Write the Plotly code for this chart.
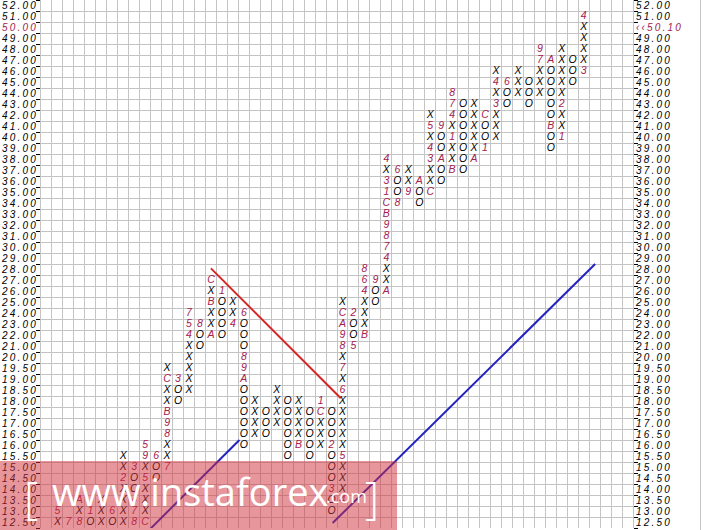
import plotly.graph_objects as go

# ---------------- data ----------------
price_levels = [12.50, 13.00, 13.50, 14.00, 14.50, 15.00, 15.50, 16.00, 16.50, 17.00,
                17.50, 18.00, 18.50, 19.00, 19.50, 20.00, 21.00, 22.00, 23.00, 24.00,
                25.00, 26.00, 27.00, 28.00, 29.00, 30.00, 31.00, 32.00, 33.00, 34.00,
                35.00, 36.00, 37.00, 38.00, 39.00, 40.00, 41.00, 42.00, 43.00, 44.00,
                45.00, 46.00, 47.00, 48.00, 49.00, 50.00, 51.00, 52.00]
last_price = 50.10
last_box = 50.00

# columns 1..49 (column 0 and 50..53 are empty)
col_kind = ['X', 'O', 'X', 'O', 'X', 'O', 'X', 'O', 'X', 'O',
            'X', 'O', 'X', 'O', 'X', 'O', 'X', 'O', 'X', 'O',
            'X', 'O', 'X', 'O', 'X', 'O', 'X', 'O', 'X', 'O',
            'X', 'O', 'X', 'O', 'X', 'O', 'X', 'O', 'X', 'O',
            'X', 'O', 'X', 'O', 'X', 'O', 'X', 'O', 'X']
col_low = [12.5, 12.5, 12.5, 12.5, 12.5, 12.5, 12.5, 12.5, 12.5, 14.5,
           15.0, 18.0, 18.5, 21, 22, 22, 23, 16.0, 16.5, 16.5,
           17.0, 15.5, 16.0, 15.5, 16.0, 13.0, 13.5, 21, 22, 25,
           26, 34, 35, 34, 35, 36, 37, 37, 38, 39,
           40, 43, 44, 43, 44, 39, 40, 45, 46]
col_high = [13.0, 12.5, 13.5, 13.0, 13.5, 13.0, 15.5, 15.0, 16.0, 15.5,
            19.5, 19.0, 24, 23, 27, 26, 25, 24, 18.0, 17.5,
            18.5, 18.0, 18.0, 17.5, 18.0, 17.5, 25, 24, 28, 27,
            38, 37, 37, 36, 42, 41, 44, 43, 43, 42,
            46, 45, 46, 45, 48, 47, 48, 47, 51]

# month markers: column, price box, month code
mark_col = [1, 2, 3, 3, 4, 6, 7, 8, 8, 8, 8, 9, 9, 9, 9, 10,
            11, 11, 11, 11, 11, 12, 13, 13, 13, 14, 15, 15, 15, 16, 17,
            18, 18, 18, 18, 23, 25, 25, 26, 26,
            27, 27, 27, 27, 27, 27, 27, 27, 28, 28, 29, 29, 29, 29, 30,
            31, 31, 31, 31, 31, 31, 31, 31, 31, 31, 32, 32, 33, 34,
            35, 35, 35, 35, 36, 36, 37, 37, 37, 37, 37, 39, 40, 40,
            41, 41, 42, 45, 45, 46, 46, 47, 47, 49, 49]
mark_price = [13.0, 12.5, 12.5, 13.5, 13.0, 13.0, 14.5, 15.0, 13.5, 13.0, 12.5, 12.5, 14.5, 15.5, 16.0, 15.5,
              15.0, 16.5, 17.0, 17.5, 19.0, 19.0, 22, 23, 24, 23, 22, 25, 27, 26, 23,
              24, 20.0, 19.5, 19.0, 16.0, 17.5, 18.0, 16.0, 14.0,
              13.5, 15.5, 18.5, 19.5, 21, 22, 23, 24, 24, 21, 22, 26, 27, 28, 27,
              26, 29, 30, 31, 32, 33, 34, 35, 36, 38, 37, 34, 35, 36,
              35, 38, 39, 41, 41, 38, 37, 40, 42, 43, 44, 38, 42, 39,
              43, 45, 45, 47, 48, 47, 41, 40, 43, 46, 51]
mark_text = ['5', '7', '8', 'A', '1', '6', '2', '3', '4', '7', '8', 'C', '5', '9', '5', '6',
             '7', '8', '9', 'B', 'C', '3', '4', '5', '7', '8', 'A', 'B', 'C', '1', '4',
             '6', '8', '9', 'A', 'B', 'C', '1', '2', '3',
             '4', '5', '6', '7', '8', '9', 'A', 'C', '2', '5', 'B', '4', '6', '8', '9',
             'A', '4', '7', '8', '9', 'B', 'C', '1', '3', '4', '6', '8', '9', 'A',
             'C', '3', '4', '5', '9', 'A', 'B', '1', '4', '7', '8', 'A', 'C', '1',
             '3', '4', '6', '7', '9', 'A', 'B', '1', '2', '3', '4']

# trend lines (column, box index)
red_x, red_y = [15.0, 26.85], [23.1, 11.3]
blue1_x, blue1_y = [9.3, 17.6], [-0.75, 7.5]
blue2_x, blue2_y = [26.1, 50.05], [-0.05, 23.5]

# ---------------- build ----------------
row_of = {p: i for i, p in enumerate(price_levels)}
marks = {(c, row_of[p]): t for c, p, t in zip(mark_col, mark_price, mark_text)}

sx, sy, st = [], [], []
mx, my, mt = [], [], []
for i, kind in enumerate(col_kind):
    c = i + 1
    for r in range(row_of[col_low[i]], row_of[col_high[i]] + 1):
        if (c, r) in marks:
            mx.append(c); my.append(r); mt.append(marks[(c, r)])
        else:
            sx.append(c); sy.append(r); st.append(kind)

MARK_COLOR = '#a3214f'
GRID = '#c4c4c4'
sym_font = dict(family='Liberation Sans', size=10.5, style='italic', color='black')

fig = go.Figure()
fig.add_trace(go.Scatter(x=red_x, y=red_y, mode='lines',
                         line=dict(color='#d42424', width=2), hoverinfo='skip'))
fig.add_trace(go.Scatter(x=blue1_x, y=blue1_y, mode='lines',
                         line=dict(color='#2323c0', width=2), hoverinfo='skip'))
fig.add_trace(go.Scatter(x=blue2_x, y=blue2_y, mode='lines',
                         line=dict(color='#2323c0', width=2), hoverinfo='skip'))
fig.add_trace(go.Scatter(x=sx, y=sy, text=st, mode='text', textposition='middle center',
                         textfont=sym_font, hoverinfo='skip'))
fig.add_trace(go.Scatter(x=mx, y=my, text=mt, mode='text', textposition='middle center',
                         textfont=dict(sym_font, color=MARK_COLOR), hoverinfo='skip'))
fig.add_trace(go.Scatter(x=[None], y=[None], yaxis='y2', showlegend=False))

LS = 'letter-spacing:2.2px'
left_text, right_text = [], []
for p in price_levels:
    lab = f'{p:.2f}'
    if p == last_box:
        left_text.append(f"<span style='color:{MARK_COLOR};{LS}'>{lab}</span>")
        right_text.append(f"<span style='color:{MARK_COLOR};{LS}'>‹‹{last_price:.2f}</span>")
    else:
        left_text.append(f"<span style='{LS}'>{lab}</span>")
        right_text.append(f"<span style='{LS}'>{lab}</span>")

n = len(price_levels)
rows = list(range(n))
bounds = [r - 0.5 for r in range(n + 1)]
tick_font = dict(family='Liberation Sans', size=10, style='italic', color='black')

L, R, T, B = 41, 70, 0, 2
W, H = 703, 530
pw, ph = W - L - R, H - T - B


def px(x):
    return (x - L) / pw


def py(y):
    return (H - B - y) / ph


fig.update_layout(
    width=W, height=H, margin=dict(l=L, r=R, t=T, b=B),
    paper_bgcolor='white', plot_bgcolor='white', showlegend=False,
    xaxis=dict(range=[-0.5, 53.5], tickmode='linear', tick0=-0.5, dtick=1,
               showgrid=True, gridcolor=GRID, gridwidth=1, showticklabels=False,
               ticks='', zeroline=False, showline=False, fixedrange=True),
    yaxis=dict(range=[-0.5, n - 0.5], tickmode='array', tickvals=rows, ticktext=left_text,
               ticks='', ticklen=0, showgrid=False, zeroline=False,
               showline=True, linecolor=GRID, tickfont=tick_font,
               minor=dict(tickmode='array', tickvals=bounds, showgrid=True, gridcolor=GRID,
                          gridwidth=1, ticks='outside', ticklen=4, tickcolor='black'),
               fixedrange=True),
    yaxis2=dict(range=[-0.5, n - 0.5], overlaying='y', side='right', tickmode='array',
                tickvals=rows, ticktext=right_text, ticks='', ticklen=0, showgrid=False,
                zeroline=False, showline=True, linecolor=GRID, tickfont=tick_font,
                minor=dict(tickmode='array', tickvals=bounds, showgrid=False,
                           ticks='outside', ticklen=4, tickcolor='black'),
                fixedrange=True),
)

# right frame line of the price scale
fig.add_shape(type='line', xref='paper', yref='paper', layer='below',
              x0=px(700.5), x1=px(700.5), y0=py(H), y1=py(0),
              line=dict(color=GRID, width=1))

# watermark band
fig.add_shape(type='rect', xref='paper', yref='paper', layer='above',
              x0=px(0), x1=px(397), y0=py(531), y1=py(461),
              fillcolor='rgba(208,48,58,0.5)', line=dict(width=0))
wm_font = 'Open Sans'
fig.add_annotation(xref='paper', yref='paper', x=px(31), y=py(497), text='[',
                   showarrow=False, xanchor='center', yanchor='middle',
                   font=dict(family=wm_font, size=44, color='white', weight=300))
fig.add_annotation(xref='paper', yref='paper', x=px(50), y=py(491), text='www.instaforex',
                   showarrow=False, xanchor='left', yanchor='middle',
                   font=dict(family=wm_font, size=38, color='white'))
fig.add_annotation(xref='paper', yref='paper', x=px(324), y=py(496), text='.com',
                   showarrow=False, xanchor='left', yanchor='middle',
                   font=dict(family=wm_font, size=18, color='white'))
fig.add_annotation(xref='paper', yref='paper', x=px(372), y=py(497), text=']',
                   showarrow=False, xanchor='center', yanchor='middle',
                   font=dict(family=wm_font, size=44, color='white', weight=300))

fig.write_html('out.html', config={'displayModeBar': False},
               post_script="document.body.style.margin='0';")
